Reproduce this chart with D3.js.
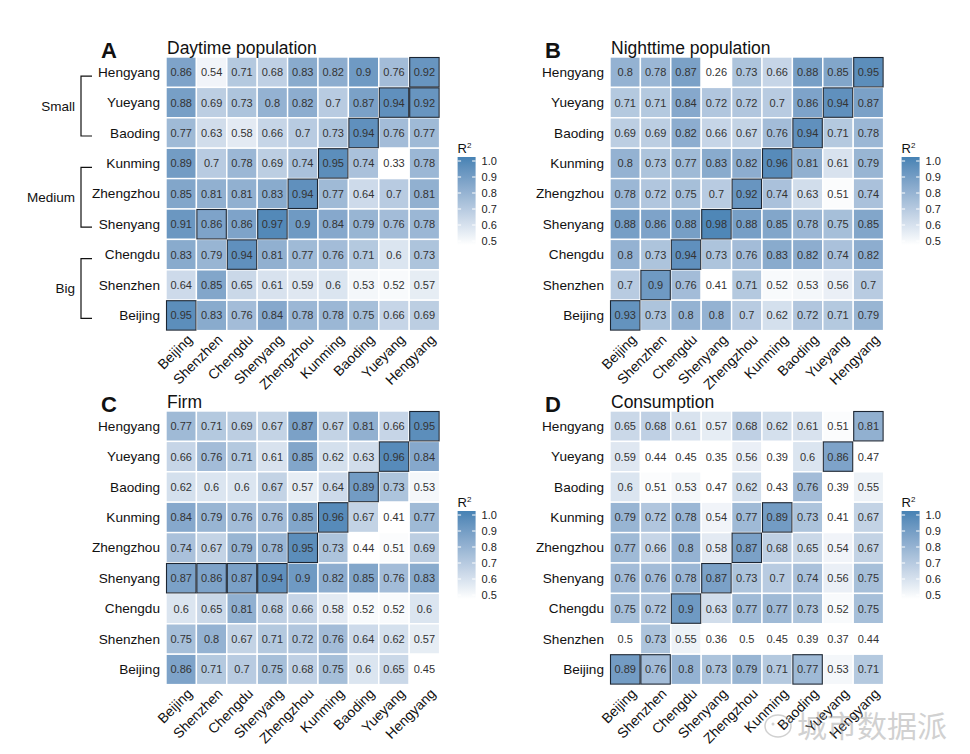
<!DOCTYPE html>
<html>
<head>
<meta charset="utf-8">
<script src="https://cdn.jsdelivr.net/npm/d3@7"></script>
<style>
  html, body { margin: 0; padding: 0; background: #fff; }
  svg { display: block; font-family: "Liberation Sans", Arial, Helvetica, sans-serif; }
</style>
</head>
<body>
<svg id="chart" width="970" height="754"></svg>
<script>
// ---------------- DATA ----------------
const rowCities = ["Hengyang", "Yueyang", "Baoding", "Kunming", "Zhengzhou", "Shenyang", "Chengdu", "Shenzhen", "Beijing"];
const colCities = ["Beijing", "Shenzhen", "Chengdu", "Shenyang", "Zhengzhou", "Kunming", "Baoding", "Yueyang", "Hengyang"];

const daytimeValues = [
  [0.86, 0.54, 0.71, 0.68, 0.83, 0.82, 0.9, 0.76, 0.92],
  [0.88, 0.69, 0.73, 0.8, 0.82, 0.7, 0.87, 0.94, 0.92],
  [0.77, 0.63, 0.58, 0.66, 0.7, 0.73, 0.94, 0.76, 0.77],
  [0.89, 0.7, 0.78, 0.69, 0.74, 0.95, 0.74, 0.33, 0.78],
  [0.85, 0.81, 0.81, 0.83, 0.94, 0.77, 0.64, 0.7, 0.81],
  [0.91, 0.86, 0.86, 0.97, 0.9, 0.84, 0.79, 0.76, 0.78],
  [0.83, 0.79, 0.94, 0.81, 0.77, 0.76, 0.71, 0.6, 0.73],
  [0.64, 0.85, 0.65, 0.61, 0.59, 0.6, 0.53, 0.52, 0.57],
  [0.95, 0.83, 0.76, 0.84, 0.78, 0.78, 0.75, 0.66, 0.69]
];
const nighttimeValues = [
  [0.8, 0.78, 0.87, 0.26, 0.73, 0.66, 0.88, 0.85, 0.95],
  [0.71, 0.71, 0.84, 0.72, 0.72, 0.7, 0.86, 0.94, 0.87],
  [0.69, 0.69, 0.82, 0.66, 0.67, 0.76, 0.94, 0.71, 0.78],
  [0.8, 0.73, 0.77, 0.83, 0.82, 0.96, 0.81, 0.61, 0.79],
  [0.78, 0.72, 0.75, 0.7, 0.92, 0.74, 0.63, 0.51, 0.74],
  [0.88, 0.86, 0.88, 0.98, 0.88, 0.85, 0.78, 0.75, 0.85],
  [0.8, 0.73, 0.94, 0.73, 0.76, 0.83, 0.82, 0.74, 0.82],
  [0.7, 0.9, 0.76, 0.41, 0.71, 0.52, 0.53, 0.56, 0.7],
  [0.93, 0.73, 0.8, 0.8, 0.7, 0.62, 0.72, 0.71, 0.79]
];
const firmValues = [
  [0.77, 0.71, 0.69, 0.67, 0.87, 0.67, 0.81, 0.66, 0.95],
  [0.66, 0.76, 0.71, 0.61, 0.85, 0.62, 0.63, 0.96, 0.84],
  [0.62, 0.6, 0.6, 0.67, 0.57, 0.64, 0.89, 0.73, 0.53],
  [0.84, 0.79, 0.76, 0.76, 0.85, 0.96, 0.67, 0.41, 0.77],
  [0.74, 0.67, 0.79, 0.78, 0.95, 0.73, 0.44, 0.51, 0.69],
  [0.87, 0.86, 0.87, 0.94, 0.9, 0.82, 0.85, 0.76, 0.83],
  [0.6, 0.65, 0.81, 0.68, 0.66, 0.58, 0.52, 0.52, 0.6],
  [0.75, 0.8, 0.67, 0.71, 0.72, 0.76, 0.64, 0.62, 0.57],
  [0.86, 0.71, 0.7, 0.75, 0.68, 0.75, 0.6, 0.65, 0.45]
];
const consumptionValues = [
  [0.65, 0.68, 0.61, 0.57, 0.68, 0.62, 0.61, 0.51, 0.81],
  [0.59, 0.44, 0.45, 0.35, 0.56, 0.39, 0.6, 0.86, 0.47],
  [0.6, 0.51, 0.53, 0.47, 0.62, 0.43, 0.76, 0.39, 0.55],
  [0.79, 0.72, 0.78, 0.54, 0.77, 0.89, 0.73, 0.41, 0.67],
  [0.77, 0.66, 0.8, 0.58, 0.87, 0.68, 0.65, 0.54, 0.67],
  [0.76, 0.76, 0.78, 0.87, 0.73, 0.7, 0.74, 0.56, 0.75],
  [0.75, 0.72, 0.9, 0.63, 0.77, 0.77, 0.73, 0.52, 0.75],
  [0.5, 0.73, 0.55, 0.36, 0.5, 0.45, 0.39, 0.37, 0.44],
  [0.89, 0.76, 0.8, 0.73, 0.79, 0.71, 0.77, 0.53, 0.71]
];

// highlighted (outlined) cells: [row city, column city]
const daytimeHighlights = [["Hengyang","Hengyang"],["Yueyang","Yueyang"],["Yueyang","Hengyang"],["Baoding","Baoding"],["Kunming","Kunming"],["Zhengzhou","Zhengzhou"],["Shenyang","Shenzhen"],["Shenyang","Shenyang"],["Chengdu","Chengdu"],["Beijing","Beijing"]];
const nighttimeHighlights = [["Hengyang","Hengyang"],["Yueyang","Yueyang"],["Baoding","Baoding"],["Kunming","Kunming"],["Zhengzhou","Zhengzhou"],["Shenyang","Shenyang"],["Chengdu","Chengdu"],["Shenzhen","Shenzhen"],["Beijing","Beijing"]];
const firmHighlights = [["Hengyang","Hengyang"],["Yueyang","Yueyang"],["Baoding","Baoding"],["Kunming","Kunming"],["Zhengzhou","Zhengzhou"],["Shenyang","Beijing"],["Shenyang","Shenzhen"],["Shenyang","Chengdu"],["Shenyang","Shenyang"]];
const consumptionHighlights = [["Hengyang","Hengyang"],["Yueyang","Yueyang"],["Kunming","Kunming"],["Zhengzhou","Zhengzhou"],["Shenyang","Shenyang"],["Chengdu","Chengdu"],["Beijing","Beijing"],["Beijing","Shenzhen"],["Beijing","Baoding"]];

const panelLetters = ["A", "B", "C", "D"];
const panelTitles = ["Daytime population", "Nighttime population", "Firm", "Consumption"];
const legendTicks = [0.5, 0.6, 0.7, 0.8, 0.9, 1.0];
const legendTitle = "R";
const sizeGroups = [
  { name: "Small", first: "Hengyang", last: "Baoding" },
  { name: "Medium", first: "Kunming", last: "Shenyang" },
  { name: "Big", first: "Chengdu", last: "Beijing" }
];
const watermark = "城市数据派";

// ---------------- LAYOUT ----------------
const svg = d3.select("#chart");
const cell = 30.4;
const gridW = cell * colCities.length;
const gridH = cell * rowCities.length;
const panelOrigins = [[166, 57], [610, 57], [166, 411], [610, 411]];
const panelValues = [daytimeValues, nighttimeValues, firmValues, consumptionValues];
const panelHighlights = [daytimeHighlights, nighttimeHighlights, firmHighlights, consumptionHighlights];

const color = d3.scaleLinear()
  .domain([0.5, 1.0])
  .range(["#ffffff", "steelblue"])
  .interpolate(d3.interpolateLab)
  .clamp(true);

const x = d3.scaleBand().domain(colCities).range([0, gridW]);
const y = d3.scaleBand().domain(rowCities).range([0, gridH]);
const fmt = v => String(+v.toFixed(2));

// gradient for legend
const defs = svg.append("defs");
const grad = defs.append("linearGradient").attr("id", "lg")
  .attr("x1", 0).attr("y1", 1).attr("x2", 0).attr("y2", 0);
d3.range(0, 1.0001, 0.1).forEach(t => {
  grad.append("stop").attr("offset", t).attr("stop-color", color(0.5 + 0.5 * t));
});

panelOrigins.forEach((o, pi) => {
  const g = svg.append("g").attr("transform", `translate(${o[0]},${o[1]})`);
  const vals = panelValues[pi];
  const cells = [];
  rowCities.forEach((r, ri) => colCities.forEach((c, ci) => cells.push({ r, c, v: vals[ri][ci] })));

  // tiles
  g.selectAll("rect.tile").data(cells).enter().append("rect")
    .attr("class", "tile")
    .attr("x", d => x(d.c))
    .attr("y", d => y(d.r))
    .attr("width", x.bandwidth())
    .attr("height", y.bandwidth())
    .attr("fill", d => color(d.v))
    .attr("stroke", "#ffffff")
    .attr("stroke-width", 1.4);

  // highlights
  g.selectAll("rect.hl").data(panelHighlights[pi]).enter().append("rect")
    .attr("class", "hl")
    .attr("x", d => x(d[1]) + 0.5)
    .attr("y", d => y(d[0]) + 0.5)
    .attr("width", x.bandwidth() - 1)
    .attr("height", y.bandwidth() - 1)
    .attr("fill", "none")
    .attr("stroke", "#1c2633")
    .attr("stroke-width", 1.1);

  // values
  g.selectAll("text.val").data(cells).enter().append("text")
    .attr("class", "val")
    .attr("x", d => x(d.c) + x.bandwidth() / 2)
    .attr("y", d => y(d.r) + y.bandwidth() / 2)
    .attr("text-anchor", "middle")
    .attr("dominant-baseline", "central")
    .attr("font-size", 11)
    .attr("fill", "#333333")
    .text(d => fmt(d.v));

  // row labels
  g.selectAll("text.rl").data(rowCities).enter().append("text")
    .attr("class", "rl")
    .attr("x", -6)
    .attr("y", d => y(d) + y.bandwidth() / 2)
    .attr("text-anchor", "end")
    .attr("dominant-baseline", "central")
    .attr("font-size", 13.6)
    .attr("fill", "#111")
    .text(d => d);

  // column labels
  g.selectAll("text.cl").data(colCities).enter().append("text")
    .attr("class", "cl")
    .attr("transform", d => `translate(${x(d) + x.bandwidth() / 2 + 12},${gridH + 10}) rotate(-45)`)
    .attr("text-anchor", "end")
    .attr("font-size", 14)
    .attr("fill", "#111")
    .text(d => d);

  // panel letter & title
  g.append("text").attr("x", -65).attr("y", 1)
    .attr("font-size", 22).attr("font-weight", "bold").attr("fill", "#111")
    .text(panelLetters[pi]);
  g.append("text").attr("x", 1).attr("y", -3)
    .attr("font-size", 17.5).attr("fill", "#111")
    .text(panelTitles[pi]);

  // legend
  const ly = d3.scaleLinear().domain([0.5, 1.0]).range([184, 104]);
  const lx = gridW + 18;
  const lw = 18;
  const lg = g.append("g");
  lg.append("text").attr("x", lx).attr("y", 96).attr("font-size", 13).attr("fill", "#111")
    .text(legendTitle)
    .append("tspan").attr("font-size", 8).attr("dy", -5).text("2");
  lg.append("rect").attr("x", lx).attr("y", ly(1.0) - 4).attr("width", lw)
    .attr("height", ly(0.5) - ly(1.0) + 8).attr("fill", "url(#lg)");
  legendTicks.forEach(t => {
    lg.append("line").attr("x1", lx).attr("x2", lx + 3.5).attr("y1", ly(t)).attr("y2", ly(t))
      .attr("stroke", "#fff").attr("stroke-width", 1);
    lg.append("line").attr("x1", lx + lw - 3.5).attr("x2", lx + lw).attr("y1", ly(t)).attr("y2", ly(t))
      .attr("stroke", "#fff").attr("stroke-width", 1);
  });
  lg.selectAll("text.lt").data(legendTicks).enter().append("text")
    .attr("class", "lt")
    .attr("x", lx + lw + 6)
    .attr("y", d => ly(d))
    .attr("dominant-baseline", "central")
    .attr("font-size", 11)
    .attr("fill", "#222")
    .text(d => d.toFixed(1));

  // size-group brackets (panel A only)
  if (pi === 0) {
    sizeGroups.forEach(sg => {
      const y0 = y(sg.first) + y.bandwidth() / 2 + 4;
      const y1 = y(sg.last) + y.bandwidth() / 2 + 3;
      const bx = -85;
      g.append("path")
        .attr("d", `M${bx + 11},${y0}H${bx}V${y1}H${bx + 11}`)
        .attr("fill", "none").attr("stroke", "#111").attr("stroke-width", 1.2);
      g.append("text").attr("x", bx - 6).attr("y", (y0 + y1) / 2)
        .attr("text-anchor", "end").attr("dominant-baseline", "central")
        .attr("font-size", 13.5).attr("fill", "#111").text(sg.name);
    });
  }
});

// watermark
const wm = svg.append("g").attr("opacity", 0.45);
wm.append("ellipse").attr("cx", 778).attr("cy", 726).attr("rx", 13).attr("ry", 11)
  .attr("fill", "none").attr("stroke", "#999").attr("stroke-width", 1.5);
wm.append("circle").attr("cx", 773).attr("cy", 724).attr("r", 1.5).attr("fill", "#999");
wm.append("circle").attr("cx", 783).attr("cy", 724).attr("r", 1.5).attr("fill", "#999");
wm.append("text").attr("x", 797).attr("y", 737)
  .attr("font-family", "'Noto Sans CJK SC', sans-serif")
  .attr("font-size", 30).attr("fill", "#9a9a9a").text(watermark);
</script>
</body>
</html>
